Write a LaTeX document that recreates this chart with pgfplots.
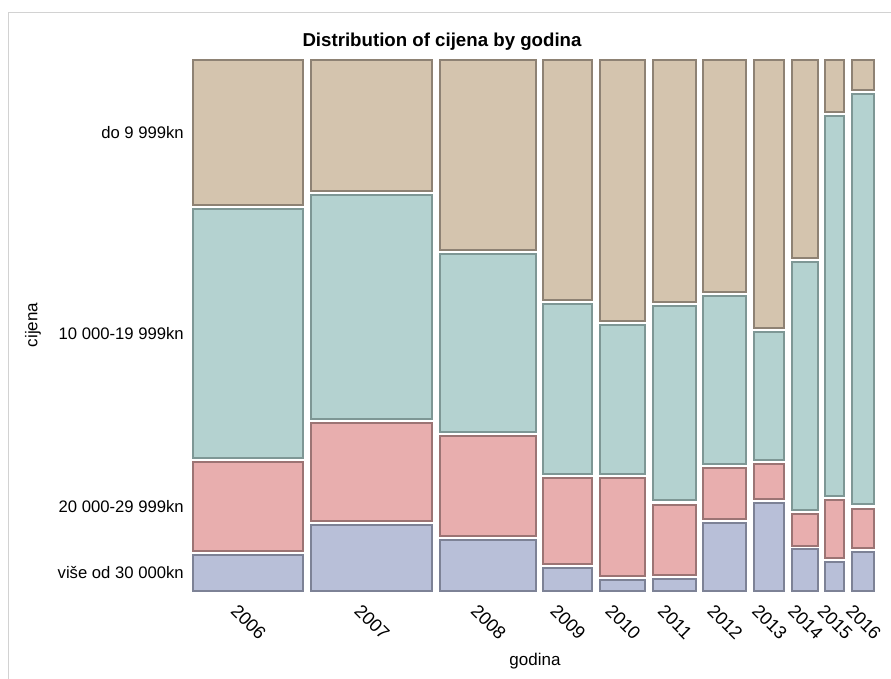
\documentclass[border=0pt]{standalone}
\usepackage{pgfplots}
\pgfplotsset{compat=1.18}
\usepackage{fontspec}
\setmainfont{Liberation Sans}
\definecolor{tanF}{HTML}{D4C4AE}
\definecolor{tanD}{HTML}{8E8274}
\definecolor{tealF}{HTML}{B4D2D0}
\definecolor{tealD}{HTML}{7E9795}
\definecolor{pinkF}{HTML}{E8AEAE}
\definecolor{pinkD}{HTML}{9C7474}
\definecolor{blueF}{HTML}{B8BFD8}
\definecolor{blueD}{HTML}{7D8296}
\definecolor{frameC}{HTML}{D2D2D2}
\newcommand{\tile}[5]{\addplot[draw=#1D, fill=#1F, line width=1.1pt] coordinates {(#2,#4) (#3,#4) (#3,#5) (#2,#5)} --cycle;}
\begin{document}
\begin{tikzpicture}
\path[use as bounding box] (-144.75pt,-65.25pt) rectangle (523.5pt,443.25pt);
\begin{axis}[
  scale only axis,
  width=510.75pt, height=398.25pt,
  xmin=193, xmax=874, ymin=60, ymax=591,
  y dir=reverse,
  clip=false,
  axis line style={draw=none},
  major tick length=0pt,
  xtick={248,371.5,488,567.5,622.5,674.5,724.5,769,805,834.5,863},
  xticklabels={2006,2007,2008,2009,2010,2011,2012,2013,2014,2015,2016},
  ytick={132.5,333.5,506.5,573},
  yticklabels={do 9 999kn,10 000-19 999kn,20 000-29 999kn,više od 30 000kn},
  xticklabel style={font=\fontsize{13.6pt}{15pt}\selectfont, anchor=center, xshift=0.5pt, yshift=-23.25pt, rotate=-45},
  yticklabel style={font=\fontsize{12.5pt}{14pt}\selectfont, inner sep=0pt, anchor=east, xshift=-6.75pt},
]
\draw[color=frameC, line width=0.9pt] (axis cs:8.5,700) -- (axis cs:8.5,12.5) -- (axis cs:900,12.5);
% 2006
\tile{tan}{193}{303}{60}{205}
\tile{teal}{193}{303}{209}{458}
\tile{pink}{193}{303}{462}{551}
\tile{blue}{193}{303}{555}{591}
% 2007
\tile{tan}{311}{432}{60}{191}
\tile{teal}{311}{432}{195}{419}
\tile{pink}{311}{432}{423}{521}
\tile{blue}{311}{432}{525}{591}
% 2008
\tile{tan}{440}{536}{60}{250}
\tile{teal}{440}{536}{254}{432}
\tile{pink}{440}{536}{436}{536}
\tile{blue}{440}{536}{540}{591}
% 2009
\tile{tan}{543}{592}{60}{300}
\tile{teal}{543}{592}{304}{474}
\tile{pink}{543}{592}{478}{564}
\tile{blue}{543}{592}{568}{591}
% 2010
\tile{tan}{600}{645}{60}{321}
\tile{teal}{600}{645}{325}{474}
\tile{pink}{600}{645}{478}{576}
\tile{blue}{600}{645}{580}{591}
% 2011
\tile{tan}{653}{696}{60}{302}
\tile{teal}{653}{696}{306}{500}
\tile{pink}{653}{696}{505}{575}
\tile{blue}{653}{696}{579}{591}
% 2012
\tile{tan}{703}{746}{60}{292}
\tile{teal}{703}{746}{296}{464}
\tile{pink}{703}{746}{468}{519}
\tile{blue}{703}{746}{523}{591}
% 2013
\tile{tan}{754}{784}{60}{328}
\tile{teal}{754}{784}{332}{460}
\tile{pink}{754}{784}{464}{499}
\tile{blue}{754}{784}{503}{591}
% 2014
\tile{tan}{792}{818}{60}{258}
\tile{teal}{792}{818}{262}{510}
\tile{pink}{792}{818}{514}{546}
\tile{blue}{792}{818}{549}{591}
% 2015
\tile{tan}{825}{844}{60}{112}
\tile{teal}{825}{844}{116}{496}
\tile{pink}{825}{844}{500}{558}
\tile{blue}{825}{844}{562}{591}
% 2016
\tile{tan}{852}{874}{60}{90}
\tile{teal}{852}{874}{94}{504}
\tile{pink}{852}{874}{509}{548}
\tile{blue}{852}{874}{552}{591}
\node[anchor=base, inner sep=0pt, font=\fontsize{14pt}{16pt}\selectfont\bfseries] at (axis cs:442,46.5) {Distribution of cijena by godina};
\node[anchor=base, inner sep=0pt, font=\fontsize{12.75pt}{14pt}\selectfont] at (axis cs:535,665) {godina};
\node[anchor=center, inner sep=0pt, rotate=90, font=\fontsize{12.75pt}{14pt}\selectfont] at (axis cs:33,325) {cijena};
\end{axis}
\end{tikzpicture}
\end{document}
